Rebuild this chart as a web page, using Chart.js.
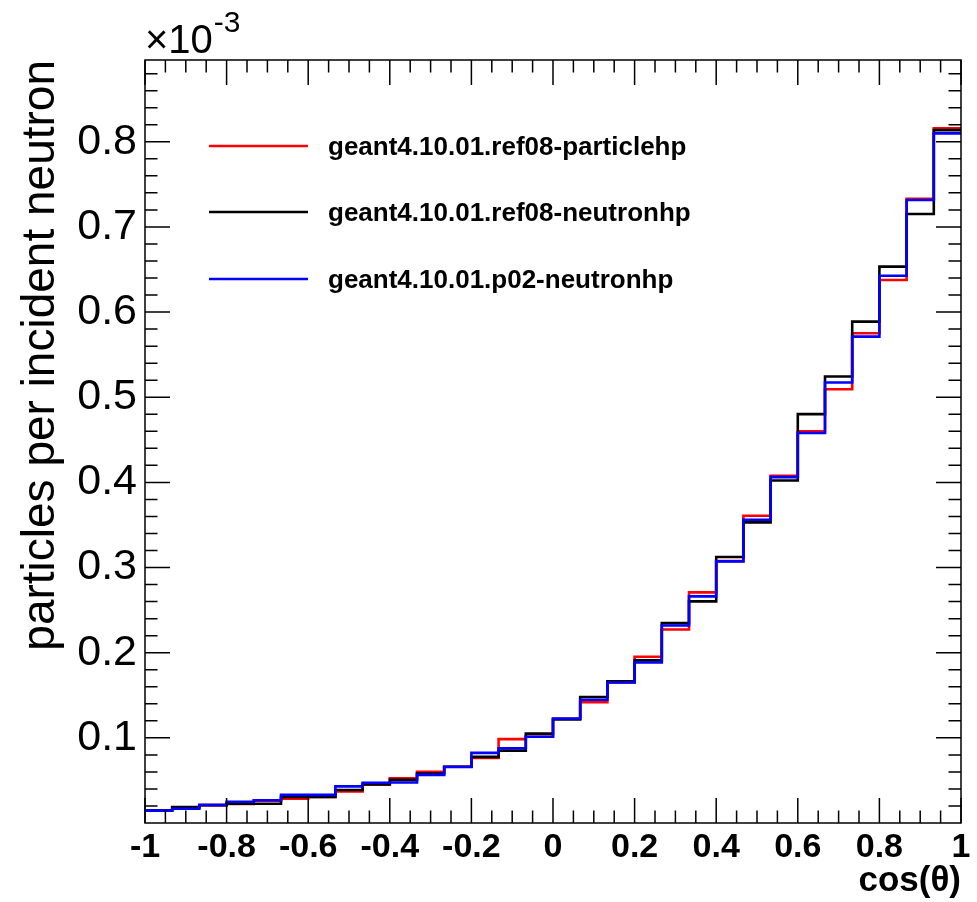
<!DOCTYPE html>
<html>
<head>
<meta charset="utf-8">
<title>cos(theta) distribution</title>
<script src="https://cdn.jsdelivr.net/npm/chart.js@4.4.1/dist/chart.umd.min.js"></script>
<style>
  html, body { margin: 0; padding: 0; background: #fff; }
  #plot { display: block; }
</style>
</head>
<body>
<canvas id="plot" width="977" height="902"></canvas>
<script>
"use strict";

// binning in cos(theta)
var nBins = 30;
var xLow = -1;
var xHigh = 1;

// particles per incident neutron (x 1e-3), one value per bin
var particlehpRef08 = [0.0148, 0.0185, 0.0210, 0.0224, 0.0262, 0.0285, 0.0305, 0.0370, 0.0452, 0.0526,
                       0.0600, 0.0660, 0.0765, 0.0985, 0.1012, 0.1225, 0.1420, 0.1650, 0.1953, 0.2272,
                       0.2708, 0.3075, 0.3608, 0.4077, 0.4600, 0.5094, 0.5751, 0.6377, 0.7331, 0.8157];
var neutronhpRef08 = [0.0148, 0.0188, 0.0210, 0.0226, 0.0226, 0.0305, 0.0305, 0.0388, 0.0454, 0.0507,
                      0.0581, 0.0660, 0.0777, 0.0850, 0.1050, 0.1216, 0.1480, 0.1665, 0.1910, 0.2347,
                      0.2603, 0.3123, 0.3530, 0.4022, 0.4801, 0.5243, 0.5888, 0.6533, 0.7151, 0.8137];
var neutronhpP02 = [0.0145, 0.0168, 0.0211, 0.0250, 0.0268, 0.0330, 0.0330, 0.0430, 0.0472, 0.0475,
                    0.0565, 0.0658, 0.0824, 0.0878, 0.1012, 0.1228, 0.1447, 0.1650, 0.1884, 0.2320,
                    0.2661, 0.3072, 0.3561, 0.4062, 0.4580, 0.5172, 0.5712, 0.6427, 0.7316, 0.8098];

var seriesNames = ["geant4.10.01.ref08-particlehp", "geant4.10.01.ref08-neutronhp", "geant4.10.01.p02-neutronhp"];
var seriesColors = ["#ff0000", "#000000", "#0000ff"];

var xTickValues = [-1, -0.8, -0.6, -0.4, -0.2, 0, 0.2, 0.4, 0.6, 0.8, 1];
var yTickValues = [0.1, 0.2, 0.3, 0.4, 0.5, 0.6, 0.7, 0.8];
var yMax = 0.896;

var xTitle = "cos(\u03b8)";
var yTitle = "particles per incident neutron";
var yExponent = "-3";

var FONT = "'Liberation Sans', Arial, Helvetica, sans-serif";

// turn bin contents into step points (left edge of each bin + closing edge)
function histPoints(values) {
    var w = (xHigh - xLow) / nBins;
    var pts = values.map(function (v, i) {
        return {x: xLow + i * w, y: v};
    });
    pts.push({x: xHigh, y: values[values.length - 1]});
    return pts;
}

// box frame with inward ticks on all four sides
var frameTicks = {
    id: "frameTicks",
    afterDraw: function (chart) {
        var a = chart.chartArea, ctx = chart.ctx;
        var xs = chart.scales.x, ys = chart.scales.y;
        ctx.save();
        ctx.strokeStyle = "#000";
        ctx.lineWidth = 1.5;
        ctx.strokeRect(a.left, a.top, a.right - a.left, a.bottom - a.top);
        ctx.beginPath();
        for (var i = 0; i <= 40; i++) {
            var px = xs.getPixelForValue(xLow + i * 0.05);
            var lx = (i % 4 === 0) ? 25 : 12.5;
            ctx.moveTo(px, a.bottom); ctx.lineTo(px, a.bottom - lx);
            ctx.moveTo(px, a.top); ctx.lineTo(px, a.top + lx);
        }
        for (var j = 1; j * 0.02 <= ys.max; j++) {
            var py = ys.getPixelForValue(j * 0.02);
            var ly = (j % 5 === 0) ? 25 : 12.5;
            ctx.moveTo(a.left, py); ctx.lineTo(a.left + ly, py);
            ctx.moveTo(a.right, py); ctx.lineTo(a.right - ly, py);
        }
        ctx.stroke();

        // axis multiplier
        ctx.fillStyle = "#000";
        ctx.textBaseline = "alphabetic";
        ctx.textAlign = "left";
        ctx.font = "40px " + FONT;
        ctx.fillText("\u00d710", a.left, 53);
        var w = ctx.measureText("\u00d710").width;
        ctx.font = "30px " + FONT;
        ctx.fillText(yExponent, a.left + w + 1, 32);
        ctx.restore();
    }
};

// legend drawn inside the frame
var boxLegend = {
    id: "boxLegend",
    afterDraw: function (chart) {
        var ctx = chart.ctx;
        var rows = [146, 212, 279];
        ctx.save();
        ctx.font = "bold 26px " + FONT;
        ctx.textBaseline = "middle";
        ctx.textAlign = "left";
        chart.data.datasets.forEach(function (ds, i) {
            ctx.strokeStyle = ds.borderColor;
            ctx.lineWidth = 2.5;
            ctx.beginPath();
            ctx.moveTo(209, rows[i]);
            ctx.lineTo(308, rows[i]);
            ctx.stroke();
            ctx.fillStyle = "#000";
            ctx.fillText(ds.label, 328, rows[i] + 2);
        });
        ctx.restore();
    }
};

Chart.defaults.font.family = FONT;
Chart.defaults.color = "#000";

var ctx = document.getElementById("plot").getContext("2d");
var cosChart = new Chart(ctx, {
    type: "line",
    data: {
        datasets: [
            {label: seriesNames[0], data: histPoints(particlehpRef08), borderColor: seriesColors[0], order: 2},
            {label: seriesNames[1], data: histPoints(neutronhpRef08), borderColor: seriesColors[1], order: 1},
            {label: seriesNames[2], data: histPoints(neutronhpP02), borderColor: seriesColors[2], order: 0}
        ]
    },
    options: {
        responsive: false,
        devicePixelRatio: 1,
        animation: false,
        events: [],
        layout: {padding: {top: 60, right: 16, left: 0, bottom: 0}},
        datasets: {
            line: {stepped: "before", borderWidth: 2.6, pointRadius: 0, fill: false, tension: 0}
        },
        plugins: {
            legend: {display: false},
            tooltip: {enabled: false}
        },
        scales: {
            x: {
                type: "linear",
                min: xLow,
                max: xHigh,
                afterFit: function (s) { s.height = 79; },
                afterBuildTicks: function (s) {
                    s.ticks = xTickValues.map(function (v) { return {value: v}; });
                },
                grid: {display: false, drawTicks: false},
                border: {display: false},
                ticks: {
                    padding: 4,
                    autoSkip: false,
                    maxRotation: 0,
                    font: {size: 34, weight: "bold"},
                    callback: function (v) { return String(v); }
                },
                title: {display: true, text: xTitle, align: "end", padding: 0,
                        font: {size: 35, weight: "bold"}}
            },
            y: {
                type: "linear",
                min: 0,
                max: yMax,
                afterFit: function (s) { s.width = 145; },
                afterBuildTicks: function (s) {
                    s.ticks = yTickValues.map(function (v) { return {value: v}; });
                },
                grid: {display: false, drawTicks: false},
                border: {display: false},
                ticks: {
                    padding: 8,
                    font: {size: 43},
                    callback: function (v) { return String(v); }
                },
                title: {display: true, text: yTitle, align: "end", padding: {top: 14, bottom: 0},
                        font: {size: 46}}
            }
        }
    },
    plugins: [frameTicks, boxLegend]
});
</script>
</body>
</html>
